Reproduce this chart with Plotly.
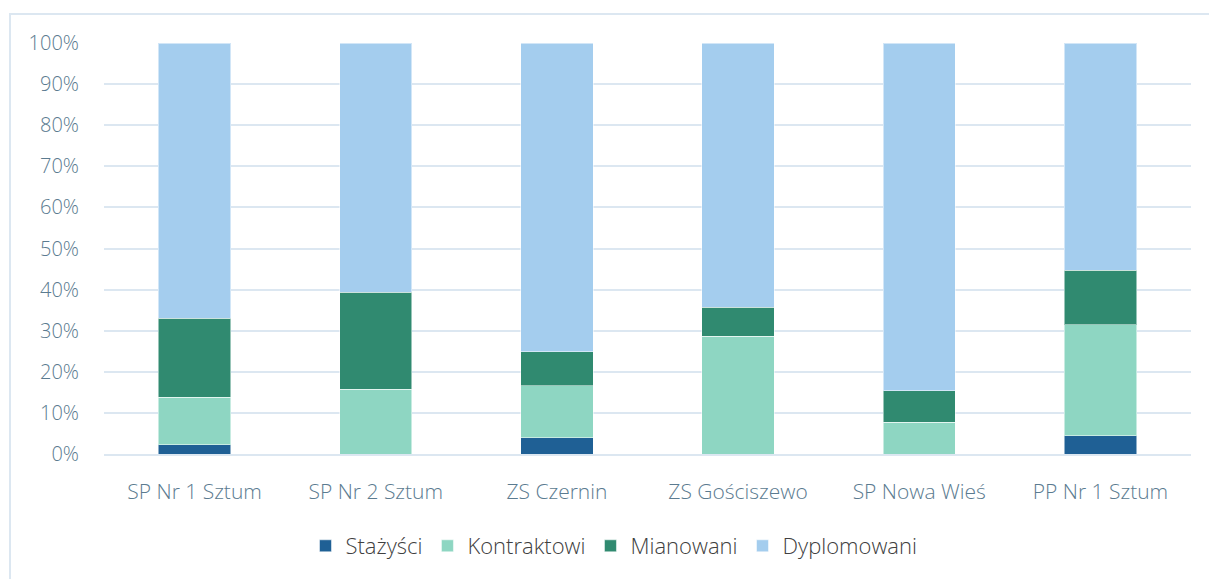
import plotly.graph_objects as go

categories = ["SP Nr 1 Sztum", "SP Nr 2 Sztum", "ZS Czernin", "ZS Gościszewo", "SP Nowa Wieś", "PP Nr 1 Sztum"]
stazysci = [2.3, 0.0, 4.0, 0.0, 0.0, 4.4]
kontraktowi = [11.5, 15.7, 12.6, 28.6, 7.7, 27.0]
mianowani = [19.2, 23.6, 8.3, 7.1, 7.7, 13.3]
dyplomowani = [67.0, 60.7, 75.1, 64.3, 84.6, 55.3]
tick_vals = [0, 10, 20, 30, 40, 50, 60, 70, 80, 90, 100]
tick_text = [f"{v}%" for v in tick_vals]

series = [
    ("Stażyści", stazysci, "#1f6095"),
    ("Kontraktowi", kontraktowi, "#8ed6c2"),
    ("Mianowani", mianowani, "#308a70"),
    ("Dyplomowani", dyplomowani, "#a4cdee"),
]

fig = go.Figure()
for name, vals, col in series:
    fig.add_trace(go.Bar(
        x=categories, y=vals, name=name,
        marker=dict(color=col, line=dict(color="rgba(255,255,255,0.5)", width=1)),
        width=0.4,
    ))

W, H = 1209, 579
L, R, T, B = 104, 1191, 43, 454
FONT = "Open Sans, Segoe UI, sans-serif"
fig.update_layout(
    barmode="stack",
    width=W, height=H,
    margin=dict(l=L, r=W - R, t=T, b=H - B),
    plot_bgcolor="white", paper_bgcolor="white",
    font=dict(family=FONT, color="#5b7b90", size=20, weight=300),
    showlegend=True,
    legend=dict(orientation="h", x=(614 - L) / (R - L), xanchor="center",
                y=(B - 546) / (B - T), yanchor="middle",
                font=dict(family=FONT, size=22, color="#404040", weight=300),
                itemwidth=30, traceorder="normal", itemclick=False),
    xaxis=dict(showgrid=False, showline=True, linecolor="#dce7f1", linewidth=2,
               tickfont=dict(family=FONT, size=21, color="#5b7b90", weight=300),
               ticks="", ticklabelstandoff=18),
    yaxis=dict(range=[0, 100], tickvals=tick_vals, ticktext=tick_text,
               showgrid=True, gridcolor="#dce7f1", gridwidth=2, zeroline=False,
               showline=False,
               tickfont=dict(family=FONT, size=20, color="#5b7b90", weight=300),
               ticklabelstandoff=24),
)

pw, ph = R - L, B - T
def px(x): return (x - L) / pw
def py(y): return (B - y) / ph
# outer chart frame (right and bottom edges fall outside the window)
fig.add_shape(type="path", xref="paper", yref="paper",
              path=f"M {px(10)},{py(600)} L {px(10)},{py(14)} L {px(1260)},{py(14)}",
              line=dict(color="#dce7f1", width=2), layer="below")

fig.write_html("out.html",
               config={"displayModeBar": False},
               post_script="document.body.style.margin='0';document.body.style.overflow='hidden';")
